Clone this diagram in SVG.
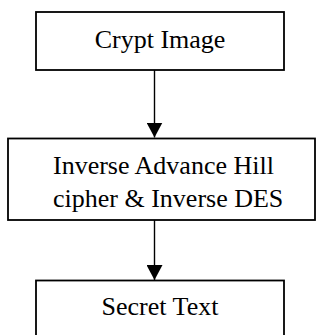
<svg xmlns="http://www.w3.org/2000/svg" width="323" height="335" viewBox="0 0 323 335">
<style>
.box{fill:#fff;stroke:#000;stroke-width:1.8}
.lbl{font-family:"Liberation Serif","Times New Roman",serif;font-size:26px;fill:#000}
.edge{stroke:#000;stroke-width:1.4;fill:none}
</style>
<defs>
<marker id="ah" markerUnits="userSpaceOnUse" markerWidth="16" markerHeight="16" refX="15" refY="8" orient="auto">
<path d="M0,0 L15,8 L0,16 Z" fill="#000"/>
</marker>
</defs>
<rect width="323" height="335" fill="#fff"/>
<g id="crypt-image">
<rect class="box" x="36" y="12" width="248" height="58"/>
<text class="lbl" x="160" y="48" text-anchor="middle">Crypt Image</text>
</g>
<g id="inverse">
<rect class="box" x="8" y="138.5" width="307" height="81.5"/>
<text class="lbl" x="53" y="174">Inverse Advance Hill</text>
<text class="lbl" x="53" y="207">cipher &amp; Inverse DES</text>
</g>
<g id="secret-text">
<rect class="box" x="36" y="280.5" width="248" height="70"/>
<text class="lbl" x="160" y="315" text-anchor="middle">Secret Text</text>
</g>
<g id="connectors">
<line class="edge" x1="154.5" y1="70" x2="154.5" y2="137.5" marker-end="url(#ah)"/>
<line class="edge" x1="154.5" y1="220" x2="154.5" y2="280" marker-end="url(#ah)"/>
</g>
</svg>
